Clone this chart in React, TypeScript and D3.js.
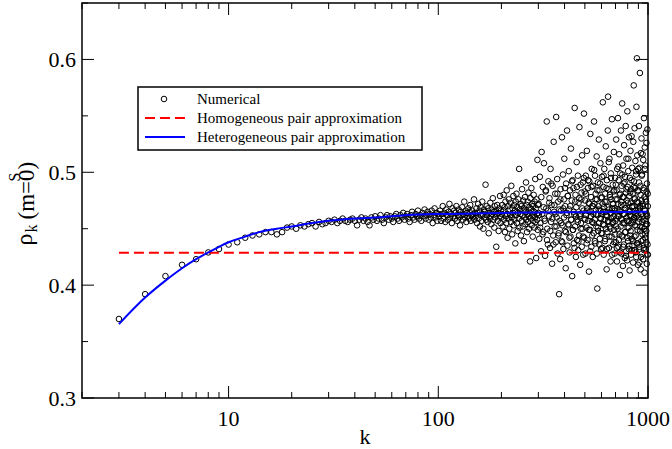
import React, { useEffect, useRef } from "react";
import * as d3 from "d3";

// numerical rho_k^S for k = 3..100
const rhoLow = [
  0.370, 0.392, 0.408, 0.418, 0.423, 0.429, 0.432, 0.436,
  0.438, 0.442, 0.444, 0.445, 0.447, 0.447, 0.445, 0.447, 0.451, 0.452,
  0.450, 0.453, 0.452, 0.454, 0.455, 0.452, 0.456, 0.454, 0.455, 0.457,
  0.456, 0.458, 0.455, 0.457, 0.459, 0.457, 0.456, 0.458, 0.459, 0.457,
  0.453, 0.458, 0.460, 0.457, 0.459, 0.456, 0.453, 0.460, 0.458, 0.461,
  0.457, 0.459, 0.462, 0.458, 0.455, 0.460, 0.462, 0.458, 0.461, 0.459,
  0.456, 0.461, 0.463, 0.459, 0.457, 0.462, 0.460, 0.464, 0.458, 0.461,
  0.463, 0.459, 0.456, 0.462, 0.465, 0.460, 0.458, 0.463, 0.461, 0.466,
  0.459, 0.462, 0.457, 0.464, 0.461, 0.467, 0.459, 0.462, 0.465, 0.458,
  0.463, 0.460, 0.466, 0.455, 0.462, 0.468, 0.460, 0.464, 0.457, 0.463,
];

// k = 101..300
const rhoMid = [
  0.461, 0.466, 0.457, 0.463, 0.470, 0.459, 0.464, 0.456, 0.467, 0.462,
  0.458, 0.465, 0.472, 0.460, 0.463, 0.455, 0.468, 0.461, 0.466, 0.459,
  0.464, 0.470, 0.457, 0.462, 0.467, 0.460, 0.453, 0.465, 0.462, 0.469,
  0.458, 0.463, 0.474, 0.460, 0.466, 0.456, 0.464, 0.461, 0.468, 0.459,
  0.465, 0.471, 0.457, 0.462, 0.466, 0.460, 0.463, 0.476, 0.458, 0.464,
  0.461, 0.468, 0.455, 0.464, 0.472, 0.459, 0.466, 0.452, 0.469, 0.462,
  0.457, 0.474, 0.463, 0.450, 0.467, 0.460, 0.465, 0.489, 0.458, 0.470,
  0.462, 0.456, 0.468, 0.446, 0.464, 0.459, 0.473, 0.461, 0.454, 0.467,
  0.463, 0.477, 0.458, 0.465, 0.451, 0.470, 0.460, 0.466, 0.434, 0.463,
  0.471, 0.457, 0.464, 0.448, 0.468, 0.461, 0.479, 0.455, 0.466, 0.460,
  0.463, 0.471, 0.452, 0.466, 0.480, 0.458, 0.469, 0.447, 0.474, 0.461,
  0.455, 0.484, 0.463, 0.442, 0.470, 0.459, 0.476, 0.450, 0.467, 0.462,
  0.473, 0.456, 0.488, 0.460, 0.445, 0.468, 0.464, 0.479, 0.453, 0.471,
  0.458, 0.466, 0.437, 0.474, 0.462, 0.481, 0.455, 0.469, 0.448, 0.464,
  0.476, 0.459, 0.503, 0.451, 0.467, 0.463, 0.472, 0.444, 0.470, 0.457,
  0.485, 0.462, 0.452, 0.475, 0.466, 0.439, 0.468, 0.460, 0.478, 0.454,
  0.465, 0.491, 0.458, 0.471, 0.447, 0.463, 0.474, 0.456, 0.482, 0.461,
  0.450, 0.469, 0.464, 0.421, 0.477, 0.459, 0.467, 0.486, 0.453, 0.472,
  0.462, 0.443, 0.470, 0.457, 0.480, 0.465, 0.451, 0.474, 0.460, 0.494,
  0.456, 0.468, 0.424, 0.476, 0.463, 0.458, 0.511, 0.449, 0.471, 0.464,
];

// k = 301, 303, ..., 499
const rhoUpperOdd = [
  0.472, 0.441, 0.496, 0.455, 0.430, 0.518, 0.463, 0.487, 0.447, 0.508,
  0.459, 0.426, 0.483, 0.468, 0.545, 0.450, 0.436, 0.492, 0.461, 0.477,
  0.433, 0.503, 0.456, 0.471, 0.419, 0.488, 0.444, 0.527, 0.465, 0.452,
  0.481, 0.438, 0.549, 0.460, 0.494, 0.428, 0.474, 0.446, 0.392, 0.457,
  0.423, 0.485, 0.466, 0.439, 0.531, 0.453, 0.498, 0.432, 0.476, 0.512,
  0.448, 0.470, 0.415, 0.490, 0.462, 0.537, 0.435, 0.479, 0.454, 0.501,
  0.467, 0.429, 0.484, 0.443, 0.521, 0.458, 0.475, 0.408, 0.493, 0.449,
  0.486, 0.437, 0.463, 0.557, 0.452, 0.480, 0.425, 0.469, 0.509, 0.440,
  0.458, 0.497, 0.431, 0.473, 0.444, 0.540, 0.461, 0.418, 0.489, 0.455,
  0.476, 0.434, 0.515, 0.450, 0.491, 0.427, 0.466, 0.552, 0.442, 0.483,
];

// k = 302, 306, ..., 498
const rhoUpperEven = [
  0.462, 0.451, 0.478, 0.445, 0.469, 0.457, 0.484, 0.440, 0.466, 0.473,
  0.448, 0.490, 0.459, 0.436, 0.471, 0.463, 0.452, 0.481, 0.444, 0.467,
  0.476, 0.455, 0.438, 0.468, 0.460, 0.486, 0.447, 0.464, 0.479, 0.453,
  0.442, 0.470, 0.458, 0.492, 0.449, 0.465, 0.433, 0.474, 0.461, 0.487,
  0.456, 0.439, 0.477, 0.463, 0.450, 0.482, 0.468, 0.443, 0.495, 0.459,
];

// k = 501, 503, ..., 999
const rhoHighOdd = [
  0.475, 0.428, 0.497, 0.462, 0.451, 0.519, 0.468, 0.440, 0.486, 0.457,
  0.473, 0.412, 0.492, 0.465, 0.449, 0.534, 0.461, 0.478, 0.434, 0.503,
  0.456, 0.470, 0.425, 0.488, 0.463, 0.446, 0.545, 0.472, 0.458, 0.497,
  0.437, 0.481, 0.467, 0.452, 0.514, 0.476, 0.397, 0.462, 0.491, 0.448,
  0.470, 0.529, 0.455, 0.484, 0.441, 0.466, 0.508, 0.459, 0.432, 0.477,
  0.463, 0.496, 0.446, 0.472, 0.562, 0.454, 0.487, 0.427, 0.469, 0.503,
  0.458, 0.439, 0.481, 0.465, 0.523, 0.450, 0.474, 0.414, 0.493, 0.461,
  0.447, 0.537, 0.567, 0.456, 0.485, 0.433, 0.467, 0.512, 0.452, 0.478,
  0.464, 0.421, 0.499, 0.459, 0.476, 0.443, 0.547, 0.468, 0.455, 0.489,
  0.436, 0.472, 0.461, 0.518, 0.449, 0.484, 0.428, 0.466, 0.495, 0.457,
  0.476, 0.438, 0.529, 0.459, 0.484, 0.421, 0.503, 0.467, 0.450, 0.548,
  0.472, 0.434, 0.493, 0.461, 0.516, 0.445, 0.480, 0.409, 0.499, 0.465,
  0.452, 0.537, 0.474, 0.428, 0.488, 0.458, 0.561, 0.443, 0.478, 0.417,
  0.506, 0.463, 0.490, 0.436, 0.524, 0.455, 0.471, 0.424, 0.496, 0.468,
  0.447, 0.541, 0.482, 0.430, 0.512, 0.460, 0.475, 0.422, 0.554, 0.451,
  0.487, 0.439, 0.501, 0.466, 0.432, 0.531, 0.457, 0.479, 0.413, 0.495,
  0.462, 0.444, 0.519, 0.473, 0.427, 0.485, 0.455, 0.532, 0.441, 0.469,
  0.504, 0.435, 0.481, 0.458, 0.420, 0.527, 0.470, 0.577, 0.492, 0.431,
  0.476, 0.539, 0.453, 0.486, 0.431, 0.510, 0.464, 0.444, 0.498, 0.425,
  0.558, 0.461, 0.601, 0.437, 0.515, 0.449, 0.483, 0.418, 0.503, 0.467,
  0.473, 0.436, 0.541, 0.459, 0.420, 0.504, 0.468, 0.588, 0.470, 0.452,
  0.488, 0.414, 0.517, 0.463, 0.439, 0.530, 0.475, 0.428, 0.498, 0.456,
  0.445, 0.516, 0.470, 0.423, 0.511, 0.461, 0.484, 0.433, 0.548, 0.450,
  0.478, 0.411, 0.522, 0.466, 0.442, 0.506, 0.457, 0.432, 0.535, 0.474,
  0.448, 0.526, 0.463, 0.419, 0.490, 0.454, 0.538, 0.436, 0.481, 0.427,
];

// k = 502, 506, ..., 998
const rhoHighEven = [
  0.458, 0.481, 0.437, 0.466, 0.493, 0.449, 0.472, 0.430, 0.461, 0.487,
  0.444, 0.470, 0.455, 0.502, 0.439, 0.476, 0.463, 0.428, 0.484, 0.451,
  0.467, 0.436, 0.490, 0.459, 0.446, 0.478, 0.433, 0.465, 0.497, 0.453,
  0.474, 0.441, 0.462, 0.486, 0.432, 0.469, 0.457, 0.509, 0.443, 0.480,
  0.450, 0.495, 0.464, 0.427, 0.472, 0.456, 0.483, 0.438, 0.468, 0.445,
  0.489, 0.452, 0.433, 0.476, 0.461, 0.505, 0.440, 0.466, 0.429, 0.481,
  0.459, 0.471, 0.444, 0.498, 0.455, 0.434, 0.478, 0.463, 0.491, 0.447,
  0.468, 0.426, 0.485, 0.457, 0.442, 0.473, 0.512, 0.451, 0.435, 0.465,
  0.482, 0.448, 0.461, 0.493, 0.431, 0.470, 0.456, 0.439, 0.487, 0.460,
  0.443, 0.477, 0.466, 0.429, 0.501, 0.452, 0.474, 0.437, 0.462, 0.484,
  0.456, 0.491, 0.434, 0.469, 0.448, 0.480, 0.425, 0.463, 0.497, 0.451,
  0.472, 0.440, 0.458, 0.486, 0.431, 0.467, 0.503, 0.445, 0.476, 0.454,
  0.438, 0.483, 0.461, 0.427, 0.470,
];

// heterogeneous pair approximation
const curveK = [3, 4, 5, 6, 7, 8, 9, 10, 12, 14, 17, 20, 25, 30, 40, 50, 70, 100, 150, 200, 300, 500, 700, 1000];
const curveRho = [
  0.3655, 0.389, 0.404, 0.415, 0.423, 0.429, 0.434, 0.438, 0.443, 0.447, 0.45, 0.452,
  0.455, 0.457, 0.459, 0.46, 0.462, 0.463, 0.4635, 0.464, 0.4643, 0.4646, 0.4648, 0.465,
];

// homogeneous pair approximation (constant)
const homogeneousK = [3, 1000];
const homogeneousRho = 0.4286;

const xMajorTicks = [10, 100, 1000];
const xMinorTicks = [2, 3, 4, 5, 6, 7, 8, 9, 20, 30, 40, 50, 60, 70, 80, 90, 200, 300, 400, 500, 600, 700, 800, 900];
const yMajorTicks = [0.3, 0.4, 0.5, 0.6];
const yMinorTicks = [0.35, 0.45, 0.55, 0.65];
const legendLabels = ["Numerical", "Homogeneous pair approximation", "Heterogeneous pair approximation"];

const FONT = "'Liberation Serif', 'Times New Roman', serif";

export default function App() {
  const ref = useRef<SVGSVGElement>(null);

  useEffect(() => {
    const svg = d3.select(ref.current);
    svg.selectAll("*").remove();

    const left = 82, right = 648, top = 3, bottom = 398;
    const x = d3.scaleLog().domain([2, 1000]).range([left, right]);
    const y = d3.scaleLinear().domain([0.3, 0.65]).range([bottom, top]);

    const pairs = (vals: number[], k0: number, step: number) =>
      vals.map((v, i) => [k0 + step * i, v] as [number, number]);
    const points: [number, number][] = [
      ...pairs(rhoLow, 3, 1),
      ...pairs(rhoMid, 101, 1),
      ...pairs(rhoUpperOdd, 301, 2),
      ...pairs(rhoUpperEven, 302, 4),
      ...pairs(rhoHighOdd, 501, 2),
      ...pairs(rhoHighEven, 502, 4),
    ];

    svg
      .append("g")
      .selectAll("circle")
      .data(points)
      .join("circle")
      .attr("cx", (d) => x(d[0]))
      .attr("cy", (d) => y(d[1]))
      .attr("r", 2.8)
      .attr("fill", "none")
      .attr("stroke", "#000")
      .attr("stroke-width", 1);

    svg
      .append("line")
      .attr("x1", x(homogeneousK[0]))
      .attr("x2", x(homogeneousK[1]))
      .attr("y1", y(homogeneousRho))
      .attr("y2", y(homogeneousRho))
      .attr("stroke", "#ff0000")
      .attr("stroke-width", 2)
      .attr("stroke-dasharray", "10,5");

    const line = d3
      .line<number>()
      .x((_d, i) => x(curveK[i]))
      .y((d) => y(d))
      .curve(d3.curveMonotoneX);

    svg
      .append("path")
      .attr("d", line(curveRho))
      .attr("fill", "none")
      .attr("stroke", "#0000ff")
      .attr("stroke-width", 2);

    // frame + ticks (mirrored on all four sides)
    const axes = svg.append("g").attr("stroke", "#000");
    axes
      .append("rect")
      .attr("x", left)
      .attr("y", top)
      .attr("width", right - left)
      .attr("height", bottom - top)
      .attr("fill", "none")
      .attr("stroke-width", 1.5);

    const xt = [
      ...xMajorTicks.map((t) => ({ t, len: 12 })),
      ...xMinorTicks.map((t) => ({ t, len: 6 })),
    ];
    axes
      .selectAll("line.xb")
      .data(xt)
      .join("line")
      .attr("class", "xb")
      .attr("x1", (d) => x(d.t))
      .attr("x2", (d) => x(d.t))
      .attr("y1", bottom)
      .attr("y2", (d) => bottom - d.len);
    axes
      .selectAll("line.xt")
      .data(xt)
      .join("line")
      .attr("class", "xt")
      .attr("x1", (d) => x(d.t))
      .attr("x2", (d) => x(d.t))
      .attr("y1", top)
      .attr("y2", (d) => top + d.len);

    const yt = [
      ...yMajorTicks.map((t) => ({ t, len: 12 })),
      ...yMinorTicks.map((t) => ({ t, len: 6 })),
    ];
    axes
      .selectAll("line.yl")
      .data(yt)
      .join("line")
      .attr("class", "yl")
      .attr("x1", left)
      .attr("x2", (d) => left + d.len)
      .attr("y1", (d) => y(d.t))
      .attr("y2", (d) => y(d.t));
    axes
      .selectAll("line.yr")
      .data(yt)
      .join("line")
      .attr("class", "yr")
      .attr("x1", right)
      .attr("x2", (d) => right - d.len)
      .attr("y1", (d) => y(d.t))
      .attr("y2", (d) => y(d.t));

    const labels = svg.append("g").attr("font-family", FONT).attr("font-size", 22).attr("fill", "#000");
    labels
      .selectAll("text.xl")
      .data(xMajorTicks)
      .join("text")
      .attr("class", "xl")
      .attr("x", (d) => x(d))
      .attr("y", 426)
      .attr("text-anchor", "middle")
      .text((d) => String(d));
    labels
      .selectAll("text.ylab")
      .data(yMajorTicks)
      .join("text")
      .attr("class", "ylab")
      .attr("x", 76)
      .attr("y", (d) => y(d) + 8)
      .attr("text-anchor", "end")
      .text((d) => d3.format(".1f")(d));

    labels
      .append("text")
      .attr("x", (left + right) / 2)
      .attr("y", 444)
      .attr("text-anchor", "middle")
      .text("k");

    // y-axis title: rho_k^S (m=0)
    const yTitle = svg
      .append("g")
      .attr("font-family", FONT)
      .attr("fill", "#000")
      .attr("transform", `translate(0, ${(top + bottom) / 2}) rotate(-90)`);
    yTitle.append("text").attr("x", -45).attr("y", 32).attr("font-size", 24).text("ρ");
    yTitle.append("text").attr("x", -32).attr("y", 37).attr("font-size", 16).text("k");
    yTitle.append("text").attr("x", 19).attr("y", 20).attr("font-size", 16).text("S");
    yTitle.append("text").attr("x", -19).attr("y", 34).attr("font-size", 23).text("(m=0)");

    // legend
    const lg = svg.append("g");
    lg.append("rect")
      .attr("x", 138)
      .attr("y", 87)
      .attr("width", 284)
      .attr("height", 63)
      .attr("fill", "#fff")
      .attr("stroke", "#000")
      .attr("stroke-width", 1.5);
    const rowY = [99, 118, 137];
    lg.append("circle").attr("cx", 164).attr("cy", rowY[0]).attr("r", 2.8).attr("fill", "none").attr("stroke", "#000");
    lg.append("line")
      .attr("x1", 145).attr("x2", 185).attr("y1", rowY[1]).attr("y2", rowY[1])
      .attr("stroke", "#ff0000").attr("stroke-width", 2).attr("stroke-dasharray", "10,5");
    lg.append("line")
      .attr("x1", 145).attr("x2", 185).attr("y1", rowY[2]).attr("y2", rowY[2])
      .attr("stroke", "#0000ff").attr("stroke-width", 2);
    lg.selectAll("text")
      .data(legendLabels)
      .join("text")
      .attr("x", 197)
      .attr("y", (_d, i) => rowY[i] + 5)
      .attr("font-family", FONT)
      .attr("font-size", 15)
      .text((d) => d);
  }, []);

  return (
    <svg
      ref={ref}
      width={672}
      height={449}
      style={{ position: "absolute", left: 0, top: 0, background: "#fff" }}
    />
  );
}
